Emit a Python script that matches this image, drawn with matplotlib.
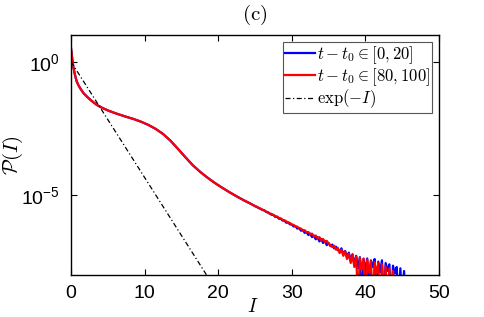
import numpy as np
import matplotlib
matplotlib.use("Agg")
from matplotlib import pyplot as plt
from matplotlib.ticker import FixedLocator, FuncFormatter

plt.rcParams['mathtext.fontset'] = 'custom'
plt.rcParams['mathtext.rm'] = 'cmr10'
plt.rcParams['mathtext.it'] = 'cmmi10'
plt.rcParams['mathtext.cal'] = 'cmsy10'
plt.rcParams['mathtext.sf'] = 'Liberation Sans'
plt.rcParams['mathtext.fallback'] = 'cm'
plt.rcParams['axes.unicode_minus'] = False

# shared smooth part (both curves lie on top of each other), log10 P
I_smooth = [0, 0.15, 0.3, 0.5, 0.75, 1.0, 1.3, 1.7, 2.2, 2.8, 3.5, 4.3, 5.2, 6.2,
            7.3, 8.5, 9.5, 10.5, 11.5, 12.5, 13.5, 14.5, 15.5, 16.5, 17.5, 18.5,
            19.5, 20.5, 21.5, 22.5, 23.5, 24.5]
logP_smooth = [0.50, 0.15, -0.17, -0.45, -0.72, -0.88, -1.02, -1.18, -1.32, -1.47,
               -1.62, -1.74, -1.85, -1.95, -2.05, -2.15, -2.25, -2.37, -2.52, -2.71,
               -2.96, -3.26, -3.57, -3.87, -4.12, -4.34, -4.54, -4.72, -4.89, -5.05,
               -5.20, -5.34]

# noisy tails, step 0.25 starting at I = 25
logP_blue_tail = [-5.42, -5.45, -5.49, -5.52, -5.56, -5.58, -5.63, -5.66, -5.70, -5.74,
                  -5.75, -5.82, -5.82, -5.89, -5.89, -5.96, -5.96, -6.04, -6.03, -6.10,
                  -6.11, -6.18, -6.17, -6.26, -6.24, -6.34, -6.31, -6.42, -6.39, -6.50,
                  -6.45, -6.58, -6.52, -6.66, -6.58, -6.74, -6.65, -6.80, -6.72, -6.88,
                  -6.80, -6.92, -6.86, -7.00, -6.94, -7.06, -7.12, -7.00, -7.22, -7.10,
                  -7.32, -7.16, -7.45, -7.22, -7.60, -7.28, -7.75, -7.33, -9.00, -7.40,
                  -7.85, -7.38, -9.00, -7.45, -7.70, -7.40, -9.00, -7.50, -7.90, -7.45,
                  -9.00, -7.55, -7.85, -7.60, -9.00, -7.65, -7.95, -7.70, -9.00, -7.75,
                  -9.00, -7.85, -9.00]
logP_red_tail = [-5.41, -5.44, -5.48, -5.51, -5.55, -5.57, -5.62, -5.64, -5.69, -5.71,
                 -5.75, -5.79, -5.81, -5.86, -5.88, -5.93, -5.95, -5.99, -6.03, -6.05,
                 -6.11, -6.12, -6.18, -6.19, -6.25, -6.26, -6.33, -6.32, -6.40, -6.39,
                 -6.47, -6.45, -6.55, -6.52, -6.62, -6.58, -6.69, -6.65, -6.76, -6.72,
                 -6.82, -6.88, -6.95, -6.90, -7.05, -6.98, -7.18, -7.05, -7.28, -7.12,
                 -7.40, -7.20, -7.55, -7.25, -7.70, -7.30, -9.00, -7.35, -7.80, -7.38,
                 -9.00, -7.42, -7.90, -7.48, -9.00, -7.52, -7.95, -7.55, -9.00, -7.60,
                 -9.00, -7.68, -9.00, -7.75, -9.00, -7.85, -9.00]

I_blue = np.concatenate([I_smooth, 25 + 0.25 * np.arange(len(logP_blue_tail))])
P_blue = 10.0 ** np.concatenate([logP_smooth, logP_blue_tail])
I_red = np.concatenate([I_smooth, 25 + 0.25 * np.arange(len(logP_red_tail))])
P_red = 10.0 ** np.concatenate([logP_smooth, logP_red_tail])

# exp(-I) reference line (straight on a log axis)
I_exp = [0, 50]
P_exp = [1.0, 1.93e-22]

labels = [r'$t-t_0\in[0,20]$', r'$t-t_0\in[80,100]$', r'$\exp(-I)$']

fig = plt.figure(figsize=(4.85, 3.17), dpi=100)
ax = fig.add_axes([71/485, 1 - 275/317, 368/485, 240/317])

ax.semilogy(I_blue, P_blue, color='#0000ff', lw=1.6, label=labels[0])
ax.semilogy(I_red, P_red, color='#ff0000', lw=1.6, label=labels[1])
ax.semilogy(I_exp, P_exp, color='black', lw=0.9, dashes=(4, 2, 1, 2), label=labels[2])

ax.set_xlim(0, 50)
ax.set_ylim(1e-8, 1e1)
ax.set_xticks([0, 10, 20, 30, 40, 50])
ax.yaxis.set_major_locator(FixedLocator([1e-5, 1e0]))
ax.yaxis.set_minor_locator(FixedLocator([]))
ax.yaxis.set_major_formatter(FuncFormatter(
    lambda v, p: r'$\mathsf{10^{%d}}$' % int(round(np.log10(v)))))
ax.tick_params(direction='in', top=True, right=True, length=4, width=0.8,
               labelsize=14)
ax.tick_params(axis='y', pad=8)
ax.tick_params(axis='x', pad=7)
for lab in ax.get_xticklabels():
    lab.set_family('Liberation Sans')
for s in ax.spines.values():
    s.set_linewidth(1.0)

ax.set_xlabel(r'$I$', fontsize=14)
ax.set_ylabel(r'$\mathcal{P}(I)$', fontsize=15)
ax.xaxis.set_label_coords(0.495, -0.09)
ax.yaxis.set_label_coords(-0.125, 0.5)
ax.set_title(r'$\mathrm{(c)}$', fontsize=15, pad=11)

leg = ax.legend(loc='upper right', fontsize=12, handlelength=1.8, handletextpad=0.1,
                labelspacing=0.0, borderpad=0.15, borderaxespad=0.4,
                fancybox=False, framealpha=1)
leg.get_frame().set_edgecolor('#555555')
leg.get_frame().set_linewidth(0.8)

fig.savefig('out.png', dpi=100)
